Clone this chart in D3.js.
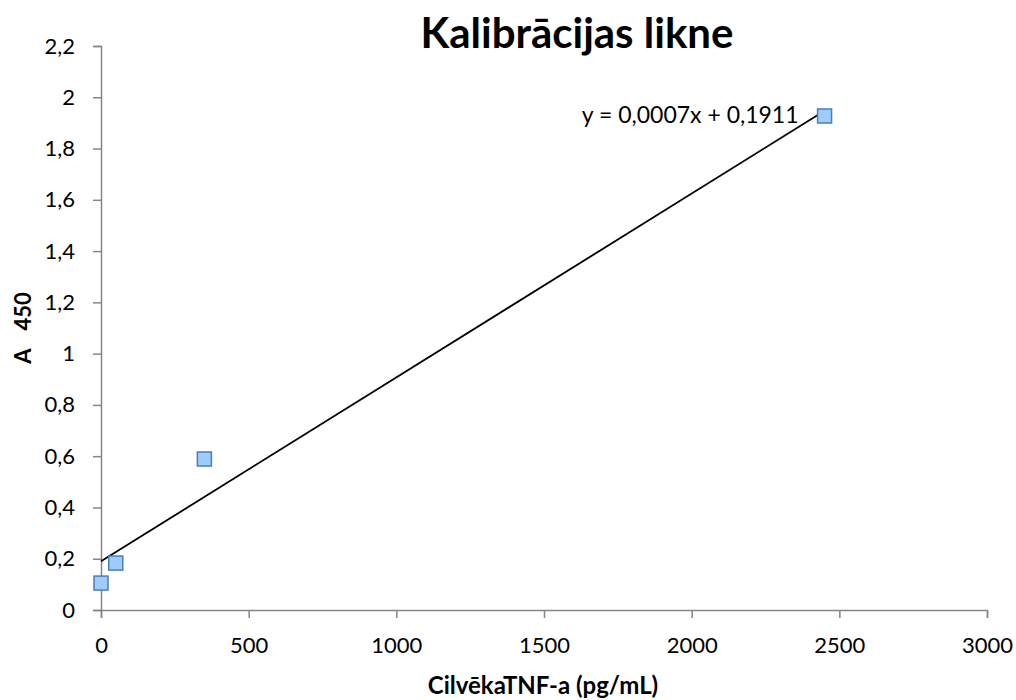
<!DOCTYPE html>
<html>
<head>
<meta charset="utf-8">
<script src="https://cdn.jsdelivr.net/npm/d3@7"></script>
<style>
  body { margin: 0; background: #fff; }
  text { font-family: Lato, "Open Sans", sans-serif; fill: #000; }
</style>
</head>
<body>
<div id="chart"></div>
<script>
// calibration points
var concentration = [0, 50, 350, 2450];
var absorbance = [0.105, 0.183, 0.589, 1.927];
var xTicks = [0, 500, 1000, 1500, 2000, 2500, 3000];
var yTicks = [0, 0.2, 0.4, 0.6, 0.8, 1, 1.2, 1.4, 1.6, 1.8, 2, 2.2];

var W = 1016, H = 700;
var margin = {top: 46, right: 29, bottom: 90, left: 101};
var width = W - margin.left - margin.right;
var height = H - margin.top - margin.bottom;

var svg = d3.select("#chart").append("svg")
  .attr("width", W)
  .attr("height", H);

var g = svg.append("g")
  .attr("transform", "translate(" + margin.left + "," + margin.top + ")");

var x = d3.scaleLinear().domain([0, 3000]).range([0, width]);
var y = d3.scaleLinear().domain([0, 2.2]).range([height, 0]);

var fmt = function (d) { return String(+d.toFixed(1)).replace(".", ","); };

// x axis
var xg = g.append("g")
  .attr("transform", "translate(0," + height + ")")
  .call(d3.axisBottom(x).tickValues(xTicks).tickSize(8).tickPadding(19).tickFormat(function (d) { return d; }));
// y axis
var yg = g.append("g")
  .call(d3.axisLeft(y).tickValues(yTicks).tickSize(8).tickPadding(18).tickFormat(fmt));

[xg, yg].forEach(function (a) {
  a.attr("font-size", 22).attr("font-family", "Lato, 'Open Sans', sans-serif");
  a.select(".domain").attr("stroke", "#868686").attr("stroke-width", 1.5);
  a.selectAll(".tick line").attr("stroke", "#868686").attr("stroke-width", 1.5);
  a.selectAll(".tick text").style("font-size", "22px").attr("fill", "#000");
});

// linear regression
var n = concentration.length;
var mx = d3.mean(concentration), my = d3.mean(absorbance);
var sxy = 0, sxx = 0;
for (var i = 0; i < n; i++) {
  sxy += (concentration[i] - mx) * (absorbance[i] - my);
  sxx += (concentration[i] - mx) * (concentration[i] - mx);
}
var slope = sxy / sxx;
var intercept = my - slope * mx;
var xEnd = d3.max(concentration);

g.append("line")
  .attr("x1", x(0)).attr("y1", y(intercept))
  .attr("x2", x(xEnd)).attr("y2", y(intercept + slope * xEnd))
  .attr("stroke", "#000").attr("stroke-width", 1.8);

// markers
var s = 14;
g.selectAll(".pt")
  .data(concentration)
  .enter().append("rect")
  .attr("class", "pt")
  .attr("x", function (d) { return x(d) - s / 2; })
  .attr("y", function (d, i) { return y(absorbance[i]) - s / 2; })
  .attr("width", s).attr("height", s)
  .attr("fill", "#9fcdfb")
  .attr("stroke", "#4a7ebb")
  .attr("stroke-width", 1.5);

// equation
g.append("text")
  .attr("x", x(xEnd) - 26)
  .attr("y", y(1.927) + 7)
  .attr("text-anchor", "end")
  .style("font-size", "23px")
  .text("y = 0,0007x + 0,1911");

// title
svg.append("text")
  .attr("x", 577).attr("y", 48)
  .attr("text-anchor", "middle")
  .style("font-size", "42px").style("font-weight", "bold")
  .text("Kalibrācijas likne");

// axis labels
svg.append("text")
  .attr("x", 543).attr("y", 694)
  .attr("text-anchor", "middle")
  .style("font-size", "24px").style("font-weight", "bold")
  .text("CilvēkaTNF-a (pg/mL)");

svg.append("text")
  .attr("transform", "translate(31," + (margin.top + y(1.1)) + ") rotate(-90)")
  .attr("text-anchor", "middle")
  .style("font-size", "22px").style("font-weight", "bold")
  .html('A<tspan dx="18">450</tspan>');
</script>
</body>
</html>
